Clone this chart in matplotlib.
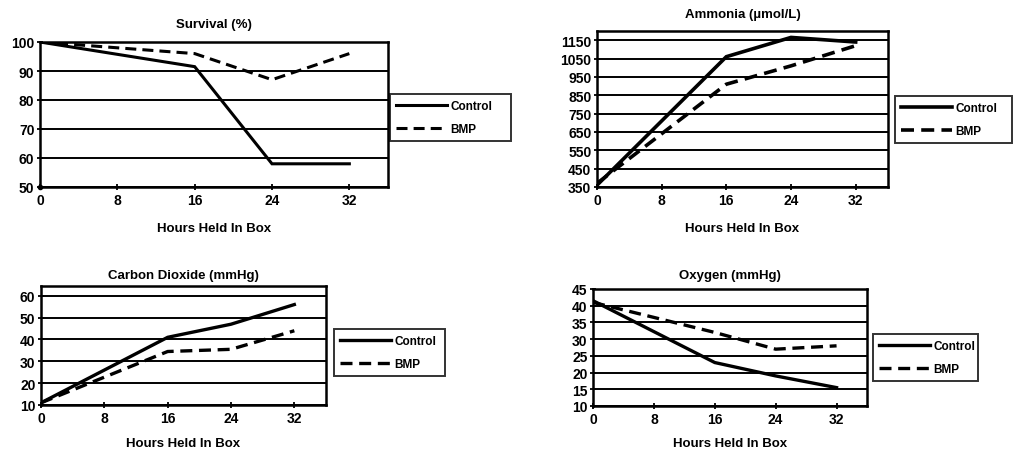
import numpy as np
import matplotlib
matplotlib.use('Agg')
import matplotlib.pyplot as plt

plt.rcParams['font.family'] = ['Liberation Sans', 'DejaVu Sans']
plt.rcParams['font.weight'] = 'bold'

# sampling times (hours held in box)
hours = [0, 16, 24, 32]

survival_control = [100, 91.5, 58, 58]
survival_bmp = [100, 96, 87, 96]

ammonia_control = [360, 1060, 1165, 1140]
ammonia_bmp = [370, 910, 1010, 1120]

co2_control = [11, 41, 47, 56]
co2_bmp = [11, 34.5, 35.5, 44]

oxygen_control = [41.5, 23, 19, 15.5]
oxygen_bmp = [41, 32, 27, 28]

x_ticks = [0, 8, 16, 24, 32]

W, H = 1013, 456
fig = plt.figure(figsize=(W / 100, H / 100), dpi=100)


def px_axes(x0, y0, x1, y1):
    # pixel box -> figure fraction
    return fig.add_axes([x0 / W, 1 - y1 / H, (x1 - x0) / W, (y1 - y0) / H])


def panel(box, title, ctrl, bmp, yticks, ylim, legbox, title_pad, ctrl_lw, label_pad):
    ax = px_axes(*box)
    for yv in yticks:
        ax.axhline(yv, color='black', lw=1.4, zorder=1)
    ax.plot(hours, ctrl, color='black', lw=ctrl_lw, zorder=3, label='Control',
            solid_joinstyle='miter')
    ax.plot(hours, bmp, color='black', lw=ctrl_lw, ls=(0, (3.6, 2.0)), zorder=3,
            label='BMP')
    ax.set_xlim(0, 36)
    ax.set_ylim(*ylim)
    ax.set_xticks(x_ticks)
    ax.set_yticks(yticks)
    ax.tick_params(axis='both', direction='inout', length=5, width=1.3,
                   labelsize=10, pad=1.5, colors='black')
    for lab in ax.get_xticklabels() + ax.get_yticklabels():
        lab.set_fontweight('bold')
    for s in ax.spines.values():
        s.set_linewidth(1.8)
    ax.set_title(title, fontsize=9.5, fontweight='bold', pad=title_pad)
    ax.set_xlabel('Hours Held In Box', fontsize=9.5, fontweight='bold',
                  labelpad=label_pad)
    lx0, ly0, lx1, ly1 = legbox
    leg = ax.legend(loc='center left',
                    bbox_to_anchor=(lx0 / W, 1 - ly1 / H, (lx1 - lx0) / W, (ly1 - ly0) / H),
                    bbox_transform=fig.transFigure, mode='expand',
                    fancybox=False, edgecolor='black', fontsize=8.5, handlelength=4.3,
                    handletextpad=0.3, labelspacing=0.9, borderaxespad=0,
                    borderpad=0.5)
    leg.get_frame().set_linewidth(1.4)
    for t in leg.get_texts():
        t.set_fontweight('bold')
    return ax


ax1 = panel((40, 43, 388, 188), 'Survival (%)', survival_control, survival_bmp,
            [50, 60, 70, 80, 90, 100], (50, 100), (390, 93, 511, 144), 11, 2.2, 11)
ax1.plot([0], [50], 'o', color='black', ms=3, clip_on=False, zorder=4)

panel((597, 32, 888, 188), 'Ammonia (\u00b5mol/L)', ammonia_control, ammonia_bmp,
      list(range(350, 1151, 100)), (350, 1200), (895, 93, 1012, 148), 10, 2.6, 11)

panel((41, 287, 326, 406), 'Carbon Dioxide (mmHg)', co2_control, co2_bmp,
      [10, 20, 30, 40, 50, 60], (10, 64.5), (334, 331, 445, 376), 6, 2.4, 9)

panel((593, 290, 867, 407), 'Oxygen (mmHg)', oxygen_control, oxygen_bmp,
      [10, 15, 20, 25, 30, 35, 40, 45], (10, 45), (873, 337, 978, 380), 8, 2.4, 8)

fig.savefig('out.png', dpi=100)
